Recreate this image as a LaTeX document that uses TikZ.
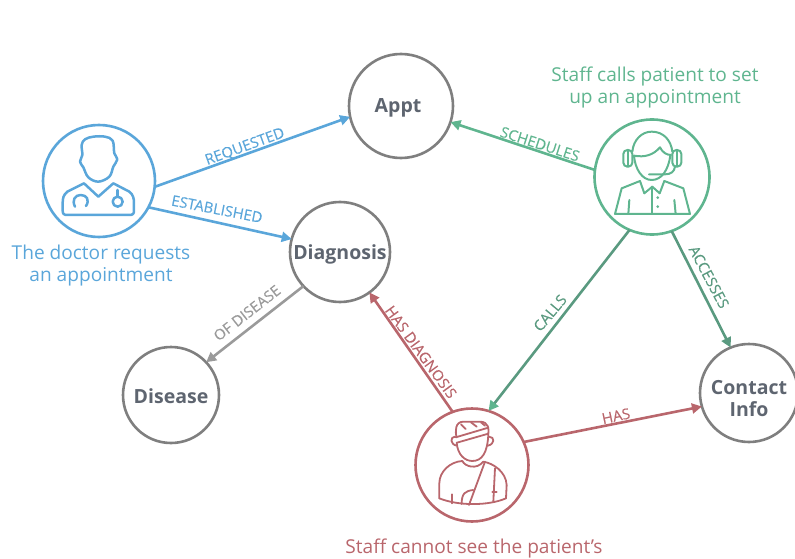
\documentclass[tikz,border=0pt]{standalone}
\usepackage{fontspec}
\setmainfont{Open Sans}
\newfontfamily\labfont[FakeBold=0.25]{Open Sans}
\usetikzlibrary{arrows.meta}
\definecolor{docb}{HTML}{5AA6DA}
\definecolor{nurg}{HTML}{5FB58F}
\definecolor{calg}{HTML}{5A9A80}
\definecolor{patr}{HTML}{B9666C}
\definecolor{grayl}{HTML}{9A9A9A}
\definecolor{ringg}{HTML}{7F7F7F}
\definecolor{txtd}{HTML}{5E6570}
\tikzset{
  ent/.style={circle,draw=ringg,line width=2.6pt,inner sep=0pt,outer sep=0pt},
  enttxt/.style={inner sep=0pt,text=txtd,align=center,font=\fontsize{19.5}{22}\selectfont\bfseries},
  actor/.style={circle,line width=2.6pt,inner sep=0pt,outer sep=0pt,fill=none},
  conn/.style={line width=2.6pt,-{Triangle[length=10pt,width=10pt]}},
  lab/.style={font=\fontsize{14.8}{16}\labfont,inner sep=0pt},
  captxt/.style={font=\fontsize{19.1}{22}\selectfont,align=center,inner sep=0pt},
  icon/.style={line width=2pt,line join=round,line cap=round},
}
\begin{document}
\begin{tikzpicture}[x=1pt,y=-1pt]
\useasboundingbox (0,0) rectangle (795,559);
\clip (0,0) rectangle (795,559);
\node[ent,minimum size=104pt] (appt) at (401,106) {};
\node[ent,minimum size=100pt] (diag) at (340,252) {};
\node[ent,minimum size=96pt] (dis) at (171,395) {};
\node[ent,minimum size=98pt] (contact) at (749,393) {};
\node[enttxt] (appttxt) at (398,107.5) {Appt};
\node[enttxt] (diagtxt) at (340,254) {Diagnosis};
\node[enttxt] (distxt) at (171,396) {Disease};
\node[enttxt] (contacttxt) at (749,399) {Contact\\Info};
\node[actor,draw=docb,minimum size=112pt] (doc) at (99,181) {};
\node[actor,draw=nurg,minimum size=115pt] (nurse) at (652,177) {};
\node[actor,draw=patr,minimum size=113pt] (pat) at (472,465) {};

\draw[conn,docb] (doc.-6) -- (appt.192);
\draw[conn,docb] (doc.-28) -- (diag.165);
\draw[conn,nurg] (nurse.173) -- (appt.-18);
\draw[line width=2.6pt,calg,-{Triangle[length=10pt,width=10pt,color=nurg]}] (nurse.247) -- (pat.73);
\draw[conn,calg] (nurse.-70) -- (contact.112);
\draw[conn,patr] (pat.110) -- (diag.-54);
\draw[conn,patr] (pat.24) -- (contact.196);
\draw[conn,grayl] (diag.223) -- (dis.43);

\node[lab,text=docb,rotate=20] (l1) at (245,147) {REQUESTED};
\node[lab,text=docb,rotate=-11] (l2) at (217,209) {ESTABLISHED};
\node[lab,text=nurg,rotate=-18] (l3) at (540,144) {SCHEDULES};
\node[lab,text=calg,rotate=50] (l4) at (550,313) {CALLS};
\node[lab,text=calg,rotate=-62] (l5) at (709,277) {ACCESSES};
\node[lab,text=patr,rotate=-54] (l6) at (421,352) {HAS DIAGNOSIS};
\node[lab,text=patr,rotate=12] (l7) at (616,416) {HAS};
\node[lab,text=grayl,rotate=38] (l8) at (247,313) {OF DISEASE};

\node[captxt,text=docb] (c1) at (101,266) {The doctor requests\\an appointment};
\node[captxt,text=nurg] (c2) at (655,87.5) {Staff calls patient to set\\up an appointment};
\node[captxt,text=patr] (c3) at (474,548) {Staff cannot see the patient's};

% doctor icon
\begin{scope}[shift={(30,120)},x=0.3333pt,y=-0.3333pt,icon,docb,line width=2.5pt]
\draw plot[smooth cycle,tension=.6] coordinates {(155,75)(165,58)(190,50)(225,50)(248,62)(253,100)(262,118)(250,140)(238,170)(205,185)(175,172)(160,142)(150,125)(157,105)};
\draw[line join=round] (162,190) -- (205,230) -- (250,190) -- (298,215) .. controls (310,225) and (312,235) .. (312,250) -- (312,272) .. controls (312,282) and (308,285) .. (298,285) -- (112,285) .. controls (102,285) and (98,282) .. (98,272) -- (98,250) .. controls (98,235) and (100,225) .. (112,215) -- cycle;
\draw (135,260) .. controls (125,240) and (135,225) .. (152,225) .. controls (170,225) and (180,240) .. (168,258);
\draw (263,210) -- (263,230);
\draw (263,245) circle[radius=5pt];
\end{scope}
% nurse icon
\begin{scope}[shift={(585,115)},x=0.3333pt,y=-0.3333pt,icon,nurg]
\draw (142,110) .. controls (145,75) and (170,50) .. (200,50) .. controls (235,50) and (258,75) .. (262,110);
\draw (147,122) .. controls (180,128) and (205,120) .. (225,97) .. controls (232,112) and (245,120) .. (258,120);
\draw (147,122) .. controls (150,160) and (170,195) .. (200,195) .. controls (230,195) and (250,165) .. (256,122);
\draw[rounded corners=4pt] (115,105) rectangle (142,155);
\draw[rounded corners=4pt] (262,105) rectangle (289,155);
\draw (129,107) -- (129,153);
\draw (275,107) -- (275,153);
\draw (270,155) .. controls (268,170) and (258,178) .. (240,178) -- (192,178);
\draw (165,198) -- (110,220) -- (90,297) -- (315,297) -- (295,220) -- (238,198);
\draw (165,198) -- (178,235) -- (202,215) -- (224,235) -- (238,198);
\draw (202,215) -- (202,297);
\draw (133,255) -- (130,297);
\draw (268,255) -- (272,297);
\fill (218,248) circle[radius=1.5pt];
\fill (218,275) circle[radius=1.5pt];
\end{scope}
% patient icon
\begin{scope}[shift={(405,405)},x=0.3333pt,y=-0.3333pt,icon,patr,line width=1.8pt]
\draw (155,97) .. controls (150,80) and (150,50) .. (175,50) -- (225,50) .. controls (252,50) and (252,75) .. (250,85);
\draw (152,97) -- (250,68);
\draw (156,113) -- (250,86);
\draw (168,58) -- (182,72);
\draw (198,52) -- (215,65);
\draw (228,52) -- (240,62);
\draw (155,113) .. controls (158,150) and (180,168) .. (202,168) .. controls (230,168) and (248,145) .. (250,86);
\draw (150,95) .. controls (135,95) and (135,118) .. (155,122);
\draw (252,95) .. controls (270,95) and (270,118) .. (248,122);
\draw (103,280) -- (103,235) .. controls (103,200) and (135,170) .. (172,168) .. controls (180,185) and (215,195) .. (235,170) .. controls (265,175) and (303,200) .. (305,240) -- (303,280);
\draw (103,280) .. controls (160,303) and (250,303) .. (303,280);
\draw (240,170) -- (192,300);
\draw (270,190) -- (265,290);
\draw (205,255) .. controls (180,258) and (170,265) .. (170,297);
\draw (142,268) -- (142,295);
\draw (262,262) -- (275,262);
\end{scope}
\end{tikzpicture}
\end{document}
